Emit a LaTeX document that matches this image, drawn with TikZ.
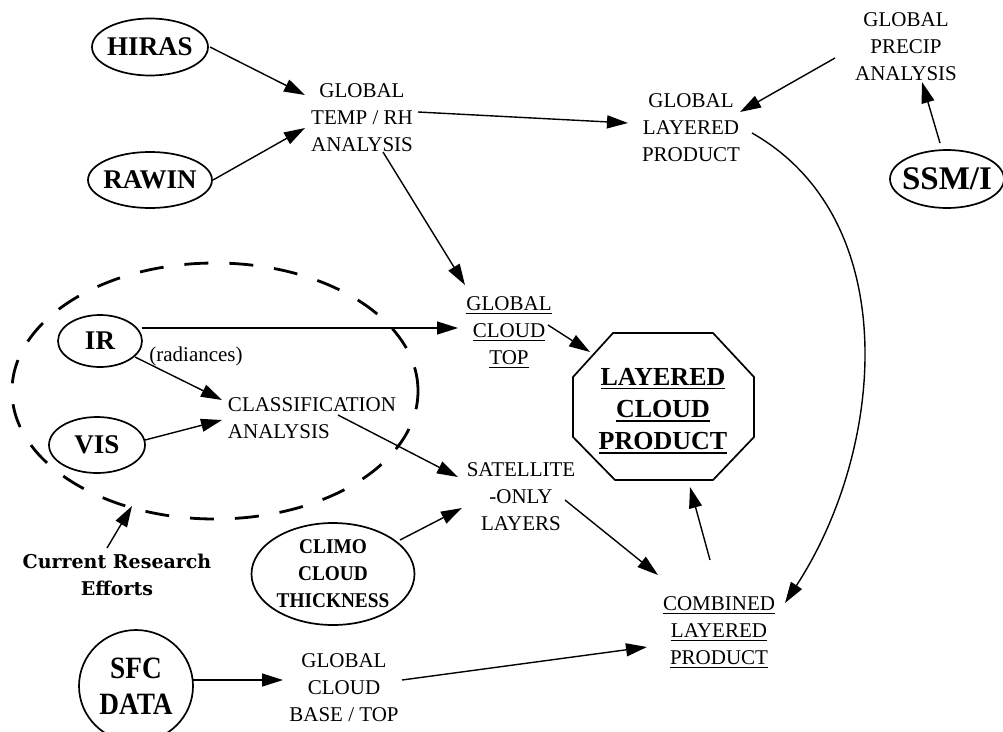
\documentclass[tikz,border=0pt]{standalone}
\usepackage{fontspec}
\setmainfont{Liberation Serif}
\newfontfamily\sfcfont[FakeStretch=0.88]{Liberation Serif}
\newfontfamily\climofont[FakeStretch=0.92]{Liberation Serif}
\newfontfamily\crefont{DejaVu Serif}
\usetikzlibrary{arrows.meta,shapes.geometric,calc}
\newcommand\myul[1]{\vtop{\hbox{#1}\kern2.5pt\hrule height 1.2pt}}
\begin{document}
\begin{tikzpicture}[x=1pt,y=-1pt,
  src/.style={ellipse,draw,line width=1.7pt,inner sep=-8pt,font=\bfseries\fontsize{27}{27}\selectfont},
  lbl/.style={align=center,inner sep=0pt,font=\fontsize{21}{27}\selectfont},
  arr/.style={line width=1.4pt,-{Triangle[length=21pt,width=13pt]}},
  research/.style={ellipse,draw,line width=2.8pt,dash pattern=on 24pt off 21pt,inner sep=0pt}]
\useasboundingbox (0,0) rectangle (1003,731);
% current research region
\node[research,minimum width=406pt,minimum height=256pt] (cur) at (215,391) {};
% source ellipses
\node[src,minimum width=116pt,minimum height=57pt] (hiras) at (150,47) {HIRAS};
\node[src,minimum width=124pt,minimum height=56pt] (rawin) at (150,180) {RAWIN};
\node[src,minimum width=114pt,minimum height=58pt,font=\bfseries\fontsize{33}{33}\selectfont] (ssmi) at (947,179) {SSM/I};
\node[src,minimum width=84pt,minimum height=52pt] (ir) at (100,341) {IR};
\node[src,minimum width=96pt,minimum height=56pt] (vis) at (97,445) {VIS};
\node[src,minimum width=163pt,minimum height=102pt,align=center,font=\climofont\bfseries\fontsize{21}{27}\selectfont] (climo) at (333,574) {CLIMO\\CLOUD\\THICKNESS};
\node[src,minimum width=114pt,minimum height=112pt,align=center,font=\sfcfont\bfseries\fontsize{31}{36}\selectfont] (sfc) at (136,686) {SFC\\DATA};
% text labels
\node[lbl] (temp) at (362,118) {GLOBAL\\TEMP / RH\\ANALYSIS};
\node[lbl] (glp) at (691,128) {GLOBAL\\LAYERED\\PRODUCT};
\node[lbl] (precip) at (906,47) {GLOBAL\\PRECIP\\ANALYSIS};
\node[lbl] (gct) at (509,332) {\myul{GLOBAL}\\\myul{CLOUD}\\\myul{TOP}};
\node[lbl,align=left] (class) at (312,418) {CLASSIFICATION\\ANALYSIS};
\node[lbl] (sat) at (521,497) {SATELLITE\\-ONLY\\LAYERS};
\node[lbl] (comb) at (719,632) {\myul{COMBINED}\\\myul{LAYERED}\\\myul{PRODUCT}};
\node[lbl] (gcbt) at (344,688) {GLOBAL\\CLOUD\\BASE / TOP};
\node[inner sep=0pt,font=\fontsize{21}{21}\selectfont] (rad) at (196,356) {(radiances)};
\node[align=center,inner sep=0pt,font=\crefont\bfseries\fontsize{19}{27}\selectfont] (cre) at (117,575) {Current Research\\Efforts};
\node[align=center,inner sep=0pt,font=\bfseries\fontsize{26}{32}\selectfont] (lcp) at (663,411) {\myul{LAYERED}\\\myul{CLOUD}\\\myul{PRODUCT}};
% octagon around the final product
\draw[line width=1.7pt] ($(lcp)+(-50,-78)$) -- ($(lcp)+(50,-78)$) -- ($(lcp)+(91,-34)$) -- ($(lcp)+(91,26)$)
  -- ($(lcp)+(50,69)$) -- ($(lcp)+(-48,69)$) -- ($(lcp)+(-90,26)$) -- ($(lcp)+(-90,-34)$) -- cycle;
% connectors
\draw[arr] ($(hiras)+(60,0)$) -- ($(temp)+(-57,-23)$);
\draw[arr] ($(rawin)+(63,0)$) -- ($(temp)+(-57,10)$);
\draw[arr] ($(temp)+(56,-6)$) -- ($(glp)+(-63,-5)$);
\draw[arr] ($(precip)+(-71,11)$) -- ($(glp)+(49,-16)$);
\draw[arr] ($(ssmi)+(-7,-36)$) -- ($(precip)+(16,35)$);
\draw[arr] ($(temp)+(21,34)$) -- ($(gct)+(-44,-47)$);
\draw[arr] ($(glp)+(61,5)$) .. controls (905,220) and (885,450) .. ($(comb)+(66,-29)$);
\draw[arr] ($(ir)+(42,-13)$) -- ($(gct)+(-51,-4)$);
\draw[arr] ($(gct)+(39,-7)$) -- ($(lcp)+(-73,-59)$);
\draw[arr] ($(ir)+(35,16)$) -- ($(class)+(-90,-18)$);
\draw[arr] ($(vis)+(48,-5)$) -- ($(class)+(-90,2)$);
\draw[arr] ($(class)+(26,-3)$) -- ($(sat)+(-63,-20)$);
\draw[arr] ($(climo)+(67,-34)$) -- ($(sat)+(-59,11)$);
\draw[arr] ($(sat)+(44,3)$) -- ($(comb)+(-61,-57)$);
\draw[arr] ($(comb)+(-9,-72)$) -- ($(lcp)+(27,76)$);
\draw[arr] ($(cre)+(-10,-27)$) -- ($(cur)+(-83,115)$);
\draw[arr] ($(sfc)+(57,-6)$) -- ($(gcbt)+(-61,-8)$);
\draw[arr] ($(gcbt)+(58,-8)$) -- ($(comb)+(-72,15)$);
\end{tikzpicture}
\end{document}
